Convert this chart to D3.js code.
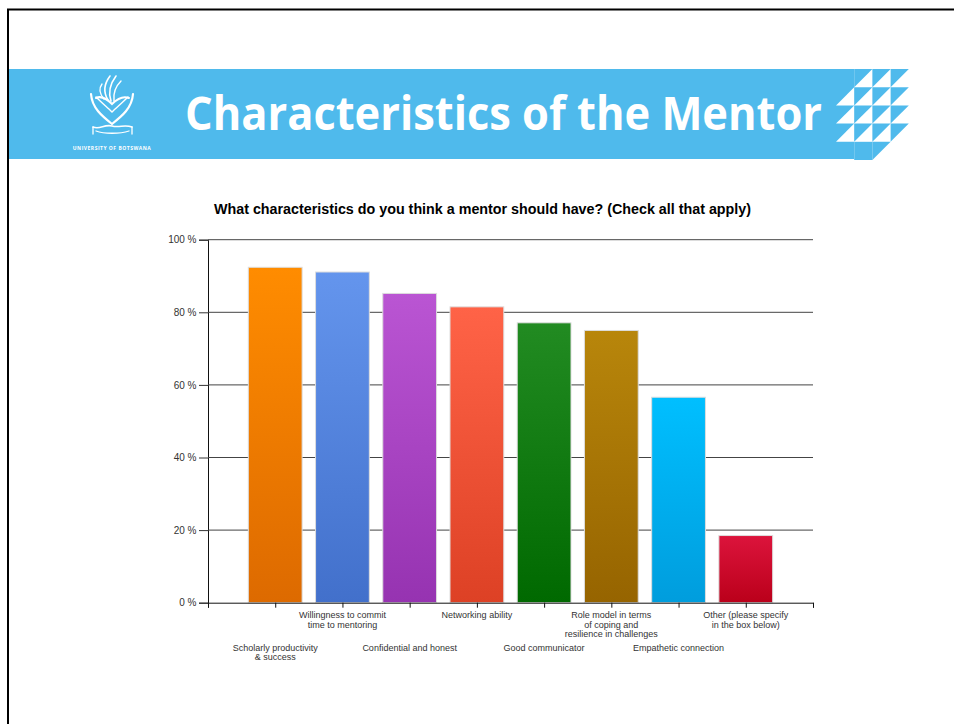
<!DOCTYPE html>
<html>
<head>
<meta charset="utf-8">
<script src="https://cdn.jsdelivr.net/npm/d3@7"></script>
<style>
  html, body { margin: 0; padding: 0; background: #fff; }
  svg { display: block; }
</style>
</head>
<body>
<svg id="chart" width="954" height="724"></svg>
<script>
// ---- data ----
const categories = [
  "Scholarly productivity\n& success",
  "Willingness to commit\ntime to mentoring",
  "Confidential and honest",
  "Networking ability",
  "Good communicator",
  "Role model in terms\nof coping and\nresilience in challenges",
  "Empathetic connection",
  "Other (please specify\nin the box below)"
];
const values = [92.4, 91.1, 85.2, 81.5, 77.1, 75.0, 56.6, 18.5];
const colorsTop = ["#FF8C00", "#6495ED", "#BA55D3", "#FF6347", "#228B22", "#B8860B", "#00BFFF", "#DC143C"];
const colorsBottom = ["#DD6A00", "#4270CB", "#9633B1", "#DD4125", "#006900", "#966400", "#009DDD", "#BA001A"];
const yTicks = [0, 20, 40, 60, 80, 100];
const yTickLabels = ["0 %", "20 %", "40 %", "60 %", "80 %", "100 %"];
const slideTitle = "Characteristics of the Mentor";
const chartTitle = "What characteristics do you think a mentor should have? (Check all that apply)";

const svg = d3.select("#chart");

// ---- slide frame ----
svg.append("rect").attr("x", 0).attr("y", 0).attr("width", 954).attr("height", 724).attr("fill", "#fff");
svg.append("line").attr("x1", 7).attr("x2", 954).attr("y1", 9.5).attr("y2", 9.5).attr("stroke", "#000").attr("stroke-width", 2);
svg.append("line").attr("x1", 8).attr("x2", 8).attr("y1", 9).attr("y2", 724).attr("stroke", "#000").attr("stroke-width", 2);

// ---- banner ----
const blue = "#4FBAEC";
const banner = svg.append("g");
banner.append("path")
  .attr("d", "M9,69 L854,69 L854,159 L873,159 L873,159 L9,159 Z")
  .attr("fill", blue);
// triangle pattern
const cell = 18.2, gx0 = 836, gy0 = 69;
const cells = [];
for (let c = 0; c < 4; c++) for (let r = 0; r < 5; r++) cells.push([c, r]);
cells.forEach(([c, r]) => {
  const x = gx0 + c * cell, y = gy0 + r * cell;
  if (c === 0 && (r === 0 || r === 4)) return;
  if (c === 3 && r === 4) return;
  if (c === 0) {
    banner.append("path").attr("d", `M${x + cell},${y} L${x + cell},${y + cell} L${x},${y + cell} Z`).attr("fill", "#fff");
    return;
  }
  if (c === 1 && r === 4) {
    banner.append("rect").attr("x", x).attr("y", y).attr("width", cell).attr("height", cell).attr("fill", blue);
    return;
  }
  banner.append("path").attr("d", `M${x},${y} L${x + cell},${y} L${x},${y + cell} Z`).attr("fill", blue);
});

// logo (simplified)
const logo = banner.append("g").attr("fill", "none").attr("stroke", "#fff").attr("stroke-linecap", "round");
logo.append("path").attr("d", "M91,94 C92,108 102,116 112,124 C122,116 132,108 133,94").attr("stroke-width", 2.2);
logo.append("path").attr("d", "M96,98 C100,96 106,98 112,104 C118,98 124,96 129,98").attr("stroke-width", 2);
logo.append("path").attr("d", "M96,97 C102,103 108,108 112,112 C116,108 122,103 128,97").attr("stroke-width", 1.4);
logo.append("path").attr("d", "M108,100 C103,92 104,84 110,76").attr("stroke-width", 1.6);
logo.append("path").attr("d", "M111,101 C108,92 110,84 116,76").attr("stroke-width", 1.6);
logo.append("path").attr("d", "M114,101 C113,93 115,87 121,81").attr("stroke-width", 1.4);
logo.append("path").attr("d", "M104,99 C99,93 99,88 102,84").attr("stroke-width", 1.3);
logo.append("path").attr("d", "M93,127 C100,130 104,124 112,126 C120,128 124,124 132,127").attr("stroke-width", 1.6);
logo.append("path").attr("d", "M93,127 L93,134 M132,127 L132,134 M96,131 C104,134 120,134 129,131").attr("stroke-width", 1.3);
banner.append("text").attr("x", 112).attr("y", 150).attr("text-anchor", "middle")
  .attr("fill", "#fff").attr("font-family", "Open Sans, sans-serif").attr("font-weight", "bold")
  .attr("font-size", 5).attr("letter-spacing", 0.5).text("UNIVERSITY OF BOTSWANA");

banner.append("text").attr("x", 185).attr("y", 130)
  .attr("fill", "#fff").attr("font-family", "Open Sans, sans-serif").attr("font-weight", "bold")
  .attr("font-size", 46).attr("textLength", 637).attr("lengthAdjust", "spacingAndGlyphs")
  .text(slideTitle);

// ---- chart ----
const x = d3.scaleLinear().domain([0, categories.length + 1]).range([208, 813]);
const y = d3.scaleLinear().domain([0, 100]).range([602.7, 239.7]);
const unit = x(1) - x(0);
const barW = unit * 0.8;

const defs = svg.append("defs");
values.forEach((v, i) => {
  const g = defs.append("linearGradient").attr("id", "g" + i).attr("x1", 0).attr("x2", 0).attr("y1", 0).attr("y2", 1);
  g.append("stop").attr("offset", "0%").attr("stop-color", colorsTop[i]);
  g.append("stop").attr("offset", "100%").attr("stop-color", colorsBottom[i]);
});

svg.append("text").attr("x", 482.5).attr("y", 214).attr("text-anchor", "middle")
  .attr("font-family", "Liberation Sans, Arial, sans-serif").attr("font-weight", "bold").attr("font-size", 14.3)
  .attr("fill", "#000").text(chartTitle);

// grid lines
const yAxis = d3.axisLeft(y).tickValues(yTicks).tickSize(9).tickFormat((d, i) => yTickLabels[i]);
const yg = svg.append("g").attr("transform", "translate(208,0)").call(yAxis);
yg.select(".domain").attr("stroke", "#111");
yg.selectAll(".tick line").attr("stroke", "#333");
yg.selectAll(".tick text").attr("font-family", "Liberation Sans, Arial, sans-serif").attr("font-size", 10).attr("fill", "#333").attr("x", -11.5);

const grid = svg.append("g");
grid.selectAll("line").data(yTicks.filter(d => d > 0)).join("line")
  .attr("x1", 208).attr("x2", 813).attr("y1", d => y(d)).attr("y2", d => y(d))
  .attr("stroke", "#444").attr("stroke-width", 1);

// bars
svg.append("g").selectAll("rect").data(values).join("rect")
  .attr("x", (d, i) => x(i + 1) - barW / 2)
  .attr("y", d => y(d))
  .attr("width", barW)
  .attr("height", d => y(0) - y(d))
  .attr("fill", (d, i) => `url(#g${i})`)
  .attr("stroke", "#ddd").attr("stroke-width", 1);

// x axis
const xAxis = d3.axisBottom(x).tickValues(d3.range(0, categories.length + 2)).tickSize(5).tickFormat("");
const xg = svg.append("g").attr("transform", `translate(0,${y(0)})`).call(xAxis);
xg.select(".domain").attr("stroke", "#111");
xg.selectAll(".tick line").attr("stroke", "#111");

// category labels (alternating rows)
const lab = svg.append("g").attr("font-family", "Liberation Sans, Arial, sans-serif").attr("font-size", 9).attr("fill", "#333").attr("text-anchor", "middle");
categories.forEach((c, i) => {
  const baseY = (i % 2 === 1) ? 618 : 650.5;
  const t = lab.append("text").attr("x", x(i + 1)).attr("y", baseY);
  c.split("\n").forEach((line, j) => {
    t.append("tspan").attr("x", x(i + 1)).attr("dy", j === 0 ? 0 : 9.5).text(line);
  });
});
</script>
</body>
</html>
